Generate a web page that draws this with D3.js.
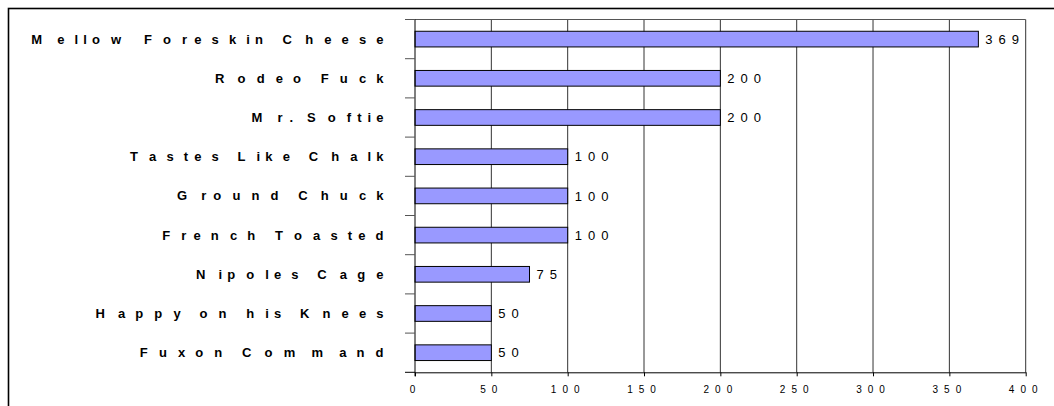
<!DOCTYPE html>
<html>
<head>
<meta charset="utf-8">
<script src="https://cdn.jsdelivr.net/npm/d3@7"></script>
<style>
  html, body { margin: 0; padding: 0; background: #fff; }
  svg { display: block; }
  text { font-family: "Liberation Sans", Arial, sans-serif; fill: #000; }
</style>
</head>
<body>
<div id="chart"></div>
<script>
// --- Data (top to bottom) ---
const bands = [
  "Mellow Foreskin Cheese", "Rodeo Fuck", "Mr. Softie", "Tastes Like Chalk",
  "Ground Chuck", "French Toasted", "Nipoles Cage", "Happy on his Knees", "Fuxon Command"
];
const votes = [369, 200, 200, 100, 100, 100, 75, 50, 50];
const xTicks = [0, 50, 100, 150, 200, 250, 300, 350, 400];

const W = 1054, H = 406;
const plot = { left: 415, right: 1025.7, top: 19.5, bottom: 372.3 };

const svg = d3.select("#chart").append("svg")
  .attr("width", W).attr("height", H);

// outer frame (runs off the right/bottom of the picture)
svg.append("rect")
  .attr("x", 8.5).attr("y", 8.5)
  .attr("width", W + 20).attr("height", H + 20)
  .attr("fill", "none").attr("stroke", "#000").attr("stroke-width", 1.6);

const x = d3.scaleLinear().domain([0, 400]).range([plot.left, plot.right]);
const y = d3.scaleBand().domain(bands).range([plot.top, plot.bottom])
  .paddingInner(0.6).paddingOuter(0.3);
const step = y.step();

// --- gridlines + plot box ---
svg.append("g").selectAll("line")
  .data(xTicks.filter(v => v > 0))
  .join("line")
  .attr("x1", d => x(d)).attr("x2", d => x(d))
  .attr("y1", plot.top).attr("y2", plot.bottom)
  .attr("stroke", "#333").attr("stroke-width", 1);

svg.append("line")
  .attr("x1", plot.left - 10).attr("x2", plot.right)
  .attr("y1", plot.top).attr("y2", plot.top)
  .attr("stroke", "#555").attr("stroke-width", 1);

// --- bars ---
svg.append("g").selectAll("rect")
  .data(bands)
  .join("rect")
  .attr("x", x(0))
  .attr("y", d => y(d))
  .attr("width", (d, i) => x(votes[i]) - x(0))
  .attr("height", y.bandwidth())
  .attr("fill", "#9999ff")
  .attr("stroke", "#000").attr("stroke-width", 1);

// --- category axis (ticks between slots) ---
const gy = svg.append("g");
gy.append("line")
  .attr("x1", plot.left).attr("x2", plot.left)
  .attr("y1", plot.top).attr("y2", plot.bottom + 4)
  .attr("stroke", "#000");
gy.selectAll("line.tick")
  .data(d3.range(bands.length + 1))
  .join("line").attr("class", "tick")
  .attr("x1", plot.left - 10).attr("x2", plot.left)
  .attr("y1", i => plot.top + i * step).attr("y2", i => plot.top + i * step)
  .attr("stroke", i => i === bands.length ? "#000" : "#555");

// --- value axis ---
const gx = svg.append("g")
  .attr("transform", `translate(0,${plot.bottom})`)
  .call(d3.axisBottom(x).tickValues(xTicks).tickSize(4).tickSizeOuter(0));
gx.select(".domain").attr("stroke", "#000");
gx.selectAll(".tick line").attr("stroke", "#000");
gx.selectAll(".tick text")
  .attr("y", 21).attr("dy", 0)
  .style("font-family", "'Liberation Sans', Arial, sans-serif")
  .style("font-size", "10px")
  .style("letter-spacing", "6px");

// --- category labels: wide, glyph-proportional spacing ---
const ctx = document.createElement("canvas").getContext("2d");
const catFont = "bold 13px 'Liberation Sans', Arial, sans-serif";
ctx.font = catFont;
const spread = 2.4;
const labelRight = 383.5;

const labels = svg.append("g");
bands.forEach(name => {
  const chars = Array.from(name);
  const widths = chars.map(c => ctx.measureText(c).width);
  const adv = widths.map(w => w * spread);
  const total = d3.sum(adv.slice(0, -1)) + widths[widths.length - 1];
  let cx = labelRight - total;
  const xs = [];
  adv.forEach(a => { xs.push(cx.toFixed(2)); cx += a; });
  labels.append("text")
    .attr("x", xs.join(" "))
    .attr("y", y(name) + y.bandwidth() / 2 + 4.5)
    .style("font", catFont)
    .text(name);
});

// --- value labels ---
svg.append("g").selectAll("text")
  .data(bands)
  .join("text")
  .attr("x", (d, i) => x(votes[i]) + 7)
  .attr("y", d => y(d) + y.bandwidth() / 2 + 4.6)
  .style("font-size", "13px")
  .style("letter-spacing", "6px")
  .text((d, i) => votes[i]);
</script>
</body>
</html>
